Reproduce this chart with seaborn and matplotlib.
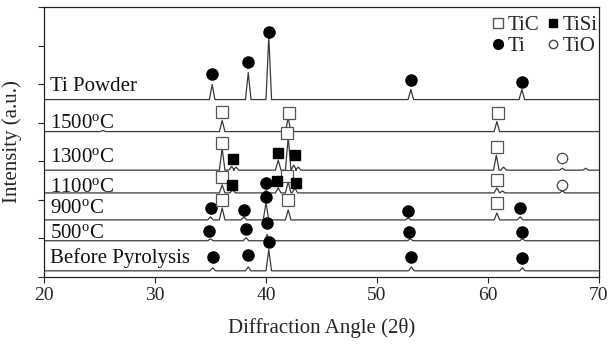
import numpy as np
import pandas as pd
import matplotlib
matplotlib.use("Agg")
import matplotlib.pyplot as plt
from matplotlib.lines import Line2D
import seaborn as sns

# ---------------- data ----------------
samples = ["Ti Powder", "1500", "1300", "1100", "900", "500", "Before Pyrolysis"]
labels = ["Ti Powder", "1500$^{\\mathrm{o}}$C", "1300$^{\\mathrm{o}}$C", "1100$^{\\mathrm{o}}$C",
          "900$^{\\mathrm{o}}$C", "500$^{\\mathrm{o}}$C", "Before Pyrolysis"]
offsets = [460, 377, 277, 218, 148, 94, 16]
label_y = [481, 387, 299, 221, 166, 101, 36]

peak_pos = {
    "Ti Powder": [35.15, 38.4, 40.25, 53.05, 63.05],
    "1500": [25.3, 36.05, 42.0, 60.8],
    "1300": [36.05, 36.9, 37.3, 41.1, 42.0, 42.5, 42.9, 60.75, 61.4, 66.7, 68.8],
    "1100": [36.05, 37.0, 40.0, 41.1, 42.0, 42.6, 60.8, 61.3, 66.7],
    "900": [35.0, 36.05, 38.0, 40.0, 42.0, 52.8, 60.8, 62.9],
    "500": [35.0, 38.2, 40.1, 53.0, 63.1],
    "Before Pyrolysis": [35.2, 38.4, 40.25, 53.1, 63.1],
}
peak_h = {
    "Ti Powder": [39, 70, 164, 26, 26],
    "1500": [3, 29, 36, 26],
    "1300": [57, 10, 8, 26, 86, 13, 8, 39, 8, 5, 5],
    "1100": [21, 8, 6, 13, 29, 13, 13, 5, 5],
    "900": [8, 31, 8, 44, 26, 5, 18, 8],
    "500": [5, 8, 16, 5, 5],
    "Before Pyrolysis": [8, 10, 55, 10, 8],
}

# phase markers: (x, y) per phase
ti_x = [35.1, 38.4, 40.3, 53.1, 63.1,
        35.0, 38.0, 40.0, 52.8, 62.9,
        34.9, 38.2, 40.1, 52.9, 63.1,
        35.2, 38.4, 40.3, 53.1, 63.1,
        40.0]
ti_y = [527, 558, 636, 512, 506,
        179, 174, 208, 171, 179,
        119, 125, 140, 117, 117,
        52, 57, 91, 52, 49,
        244]
tic_x = [36.0, 42.1, 60.9, 36.0, 41.9, 60.8, 36.0, 41.9, 60.8, 36.0, 42.0, 60.8]
tic_y = [429, 426, 426, 348, 374, 338, 260, 262, 252, 200, 200, 192]
tisi_x = [37.0, 41.1, 42.6, 36.9, 41.0, 42.7]
tisi_y = [306, 322, 317, 239, 249, 244]
tio_x = [66.7, 66.7]
tio_y = [309, 239]

x_ticks = [20, 30, 40, 50, 60, 70]

# ---------------- build traces ----------------
HW = 0.25
rows = []
for s, off in zip(samples, offsets):
    pts = [(20.0, 0.0)]
    for p, h in zip(peak_pos[s], peak_h[s]):
        pts += [(p - HW, 0.0), (p, h), (p + HW, 0.0)]
    pts.append((70.0, 0.0))
    for i, (x, y) in enumerate(pts):
        rows.append({"trace": s, "order": i, "x": x, "y": y + off})
df = pd.DataFrame(rows)

# ---------------- plot ----------------
sns.set_style("ticks")
plt.rcParams["font.family"] = ["Liberation Serif", "DejaVu Serif"]
plt.rcParams["mathtext.fontset"] = "custom"
plt.rcParams["mathtext.rm"] = "Liberation Serif"
plt.rcParams["mathtext.it"] = "Liberation Serif:italic"

fig = plt.figure(figsize=(6.08, 3.44), dpi=100)
ax = fig.add_axes([44 / 608, 1 - 277 / 344, (599 - 44) / 608, (277 - 7) / 344])

sns.lineplot(data=df, x="x", y="y", units="trace", estimator=None, sort=False,
             color="#3a3a3a", linewidth=0.9, ax=ax)

ax.plot(ti_x, ti_y, "o", color="black", markersize=8, linestyle="none")
ax.plot(tic_x, tic_y, "s", markerfacecolor="white", markeredgecolor="#555555",
        markeredgewidth=0.9, markersize=8, linestyle="none")
ax.plot(tisi_x, tisi_y, "s", color="black", markersize=7.5, linestyle="none")
ax.plot(tio_x, tio_y, "o", markerfacecolor="white", markeredgecolor="#444444",
        markeredgewidth=0.9, markersize=7.5, linestyle="none")

for lab, ly in zip(labels, label_y):
    ax.text(20.5, ly, lab, fontsize=15, va="baseline", ha="left", color="#111111")

ax.set_xlim(20, 70)
ax.set_ylim(0, 700)
ax.set_xticks(x_ticks)
ax.set_yticks(np.arange(0, 701, 100))
ax.set_yticklabels([])
ax.tick_params(axis="x", labelsize=14, direction="out", length=4, width=0.8)
ax.tick_params(axis="y", direction="out", length=4, width=0.8)
ax.set_xlabel("Diffraction Angle (2\u03b8)", fontsize=15, labelpad=10)
ax.set_ylabel("Intensity (a.u.)", fontsize=15, labelpad=8)
for sp in ax.spines.values():
    sp.set_linewidth(0.9)
    sp.set_color("#222222")

handles = [
    Line2D([], [], marker="s", linestyle="none", markerfacecolor="white",
           markeredgecolor="#555555", markersize=7, label="TiC"),
    Line2D([], [], marker="o", linestyle="none", color="black", markersize=7, label="Ti"),
    Line2D([], [], marker="s", linestyle="none", color="black", markersize=6, label="TiSi"),
    Line2D([], [], marker="o", linestyle="none", markerfacecolor="white",
           markeredgecolor="#444444", markersize=6, label="TiO"),
]
ax.legend(handles=handles, ncol=2, loc="upper right", bbox_to_anchor=(1.012, 1.0),
          frameon=False, fontsize=15, handlelength=0.6, handletextpad=0.15,
          columnspacing=0.35, labelspacing=0.08, borderaxespad=0.0)

fig.savefig("out.png", dpi=100)
